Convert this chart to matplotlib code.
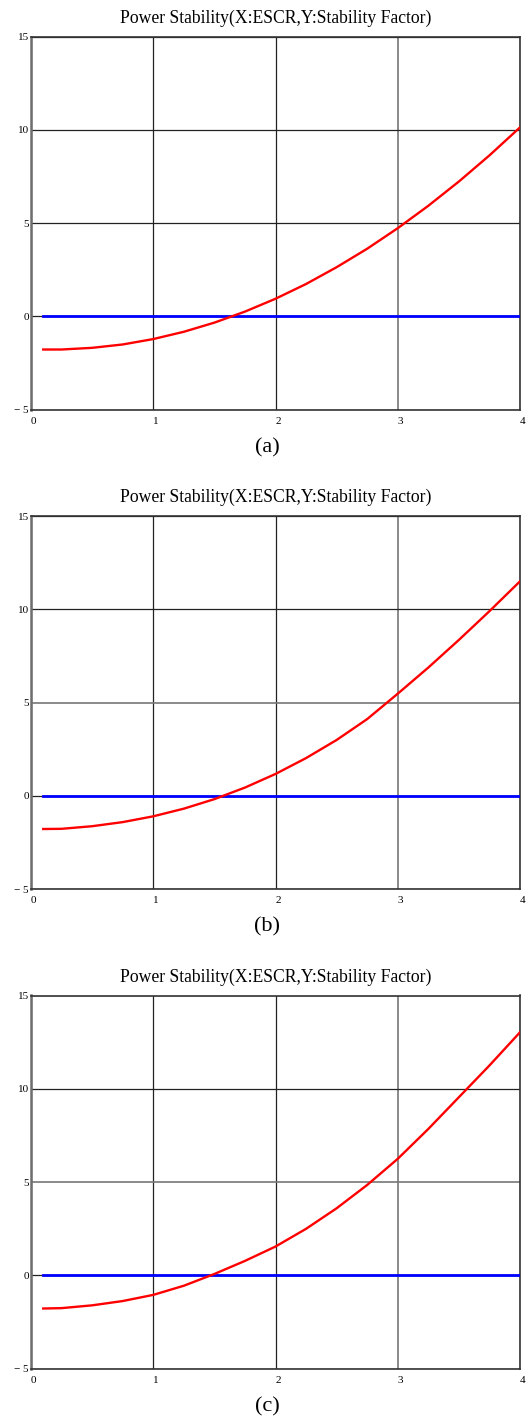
import matplotlib
matplotlib.use("Agg")
import matplotlib.pyplot as plt

plt.rcParams["font.family"] = ["Liberation Serif", "DejaVu Serif"]

# ESCR sample points shared by the three panels
escr = [0.1, 0.25, 0.5, 0.75, 1.0, 1.25, 1.5, 1.75, 2.0, 2.25, 2.5,
        2.75, 3.0, 3.25, 3.5, 3.75, 4.0]

# stability factor
factor_a = [-1.77, -1.77, -1.68, -1.50, -1.21, -0.82, -0.33, 0.26, 0.95,
            1.74, 2.64, 3.63, 4.73, 5.93, 7.23, 8.63, 10.13]
factor_b = [-1.77, -1.76, -1.62, -1.40, -1.09, -0.68, -0.17, 0.45, 1.18,
            2.03, 3.00, 4.12, 5.48, 6.88, 8.36, 9.90, 11.50]
factor_c = [-1.77, -1.75, -1.60, -1.37, -1.04, -0.55, 0.08, 0.78, 1.55,
            2.50, 3.60, 4.85, 6.25, 7.85, 9.55, 11.25, 13.03]

# zero reference line
ref_x = [0.1, 4.0]
ref_y = [0.0, 0.0]

x_ticks = [0, 1, 2, 3, 4]
x_tick_labels = ["0", "1", "2", "3", "4"]
y_ticks = [-5, 0, 5, 10, 15]
y_tick_labels = ["\u2212 5", "0", "5", "10", "15"]

panels = [("(a)", factor_a), ("(b)", factor_b), ("(c)", factor_c)]
title = "Power Stability(X:ESCR,Y:Stability Factor)"

W, H = 528, 1423
figure = plt.figure(figsize=(W / 100, H / 100), dpi=100)

left_px, right_px = 31, 520
tops_px = [36.5, 516, 995.5]
height_px = 373.3

for (label, values), top in zip(panels, tops_px):
    axis = figure.add_axes([left_px / W, 1 - (top + height_px) / H,
                            (right_px - left_px) / W, height_px / H])
    axis.plot(ref_x, ref_y, color="#0000ff", lw=2.0, zorder=3)
    axis.plot(escr, values, color="#ff0000", lw=1.7, zorder=4)

    axis.set_xlim(0, 4)
    axis.set_ylim(-5, 15)
    axis.set_xticks(x_ticks)
    axis.set_xticklabels(x_tick_labels, ha="left")
    axis.set_yticks(y_ticks)
    axis.set_yticklabels(y_tick_labels)
    axis.tick_params(length=0, labelsize=8, colors="black")
    axis.tick_params(axis="x", pad=5)
    axis.tick_params(axis="y", pad=1.5)

    axis.grid(True, color="#222222", lw=0.9)
    axis.set_axisbelow(True)
    axis.get_xgridlines()[3].set_color("#777777")
    axis.get_xgridlines()[3].set_linewidth(1.2)
    if label != "(a)":
        axis.get_ygridlines()[2].set_color("#777777")
        axis.get_ygridlines()[2].set_linewidth(1.2)

    for side in ["top", "bottom", "right"]:
        axis.spines[side].set_color("#333333")
        axis.spines[side].set_linewidth(1.2)
    axis.spines["left"].set_color("#6e6e6e")
    axis.spines["left"].set_linewidth(1.8)

    axis.set_title(title, fontsize=12.7, pad=10)
    figure.text(267 / W, 1 - (top + height_px + 38) / H, label,
                fontsize=16, ha="center", va="center")

figure.savefig("out.png", dpi=100)
plt.close(figure)
